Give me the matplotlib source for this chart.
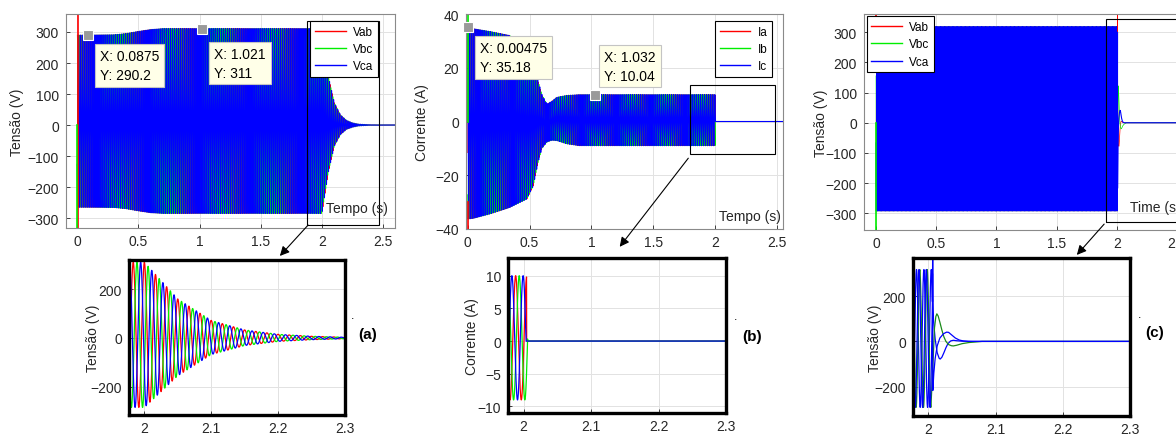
import numpy as np
import matplotlib
matplotlib.use('Agg')
import matplotlib.pyplot as plt
from matplotlib.lines import Line2D
from matplotlib.patches import Rectangle, FancyArrowPatch
from matplotlib.ticker import FormatStrFormatter

plt.rcParams['font.family'] = ['Liberation Sans', 'DejaVu Sans']

W, H = 1176, 439

# ---------------- data ----------------
# (a) line voltages: upper / lower envelope of the three waves
va_t = [0.00, 0.30, 0.40, 0.50, 0.60, 0.70, 2.00, 2.05, 2.10, 2.15, 2.20, 2.25, 2.30, 2.40, 2.60]
va_up = [290, 291, 295, 302, 308, 311, 311, 160, 72, 33, 15, 7, 3, 0.5, 0]
va_lo = [-265, -266, -270, -277, -283, -285, -285, -155, -68, -31, -14, -7, -3, -0.5, 0]
va_freq = 60.0
va_peak = [0.0000, 0.0056, 0.0111]          # Vab, Vbc, Vca
va_spike_t = [[0.008, 0.008], [0.000, 0.000]]
va_spike_v = [[-400, 400], [0, -400]]

# (b) phase currents
ic_t = [0.00, 0.05, 0.18, 0.34, 0.48, 0.53, 0.57, 0.60, 0.64, 0.68, 0.72, 0.80, 0.90, 2.00]
ic_up = [35.2, 34.5, 33.5, 32.0, 27.0, 23.0, 15.0, 10.0, 6.5, 7.5, 9.0, 9.7, 10.0, 10.0]
ic_lo = [-36.3, -36.0, -34.4, -32.0, -28.8, -24.0, -15.0, -10.0, -7.7, -7.0, -7.1, -8.3, -9.0, -9.0]
ic_freq = 60.0
ic_peak = [2.0050, 1.9936, 1.9994]          # Ia, Ib, Ic
ic_cut = [2.0045, 2.0061, 2.0036]
ic_spike_t = [[0.005, 0.005], [0.003, 0.003]]
ic_spike_v = [[-45, -30], [0, 45]]

# (c) line voltages, second case
vc_up = 318
vc_lo = -292
vc_freq = 91.0
vc_peak = [1.9932, 1.9981, 1.9858]          # Vab, Vbc, Vca
vc_end = [2.0060, 2.0036, 2.0060]
vab_tr_t = [2.0060, 2.0063, 2.0068, 2.0075, 2.0100, 2.0130, 2.0160, 2.0175, 2.0200, 2.0230,
            2.0260, 2.0290, 2.0330, 2.0370, 2.0420, 2.0500, 2.0650, 2.6000]
vab_tr_v = [250, 400, 180, 93, 10, -50, -75, -78, -70, -50, -28, -10, 2, 5, 3, 1, 0, 0]
vbc_tr_t = [2.0036, 2.0060, 2.0090, 2.0110, 2.0125, 2.0145, 2.0170, 2.0200, 2.0230, 2.0260,
            2.0300, 2.0340, 2.0370, 2.0420, 2.0500, 2.0600, 2.0800, 2.6000]
vbc_tr_v = [-290, -150, 60, 110, 122, 112, 85, 50, 20, 0, -14, -19, -20, -17, -10, -5, 0, 0]
vca_tr_t = [2.0060, 2.0065, 2.0080, 2.0100, 2.0130, 2.0170, 2.0224, 2.0270, 2.0300, 2.0340,
            2.0400, 2.0460, 2.0520, 2.0600, 2.0700, 2.6000]
vca_tr_v = [300, -217, -140, -75, -20, 15, 34, 41, 40, 30, 15, 6, 2, 0, 0, 0]
vc_spike_t = [[0.000, 0.000], [0.000, 0.000]]
vc_spike_v = [[318, 400], [0, -400]]

# data tips
tips_a = [(0.0875, 290.2), (1.021, 311)]
tips_b = [(0.00475, 35.18), (1.032, 10.04)]

v_labels = ['Vab', 'Vbc', 'Vca']
i_labels = ['Ia', 'Ib', 'Ic']
colors = ['#ff0000', '#00ee00', '#0000ff']
colors_c = ['#0000ff', '#1a8a1a', '#0000ff']
top_lw = [0.5, 0.5, 0.8]

# ---------------- signals ----------------
t = np.arange(0, 2.6, 5e-5)


def wave(env_t, up, lo, f, tp):
    u = np.interp(t, env_t, up)
    l = np.interp(t, env_t, lo)
    return (u + l) / 2 + (u - l) / 2 * np.cos(2 * np.pi * f * (t - tp))


va = [wave(va_t, va_up, va_lo, va_freq, p) for p in va_peak]

ic = []
for p, cut in zip(ic_peak, ic_cut):
    y = wave(ic_t, ic_up, ic_lo, ic_freq, p)
    y[t >= cut] = 0
    ic.append(y)

vc = []
for p, end, (tt, vv) in zip(vc_peak, vc_end,
                            [(vab_tr_t, vab_tr_v), (vbc_tr_t, vbc_tr_v), (vca_tr_t, vca_tr_v)]):
    y = wave([0, 2.6], [vc_up, vc_up], [vc_lo, vc_lo], vc_freq, p)
    m = t < end
    vc.append((np.concatenate([t[m], tt]), np.concatenate([y[m], vv])))

# ---------------- figure ----------------
fig = plt.figure(figsize=(W / 100, H / 100), dpi=100)


def px_axes(x0, y0, x1, y1):
    return fig.add_axes([x0 / W, 1 - y1 / H, (x1 - x0) / W, (y1 - y0) / H])


def fpt(x, y):
    return (x / W, 1 - y / H)


def style(ax, thick=False):
    for s in ax.spines.values():
        s.set_color('k' if thick else '#8a8a8a')
        s.set_linewidth(2.4 if thick else 0.8)
    ax.tick_params(direction='in', length=3, width=0.6, labelsize=10,
                   colors='#262626', pad=4)
    ax.tick_params(axis='y', pad=5)
    ax.grid(True, color='#e2e2e2', lw=0.7)
    ax.set_axisbelow(True)


def ylabel(ax, text, xfrac):
    ax.set_ylabel(text, fontsize=10, color='#262626', va='center')
    ax.yaxis.set_label_coords(xfrac, 0.5)


def datatip(ax, x, y, off, va='top'):
    ax.plot(x, y, 's', ms=7.5, mfc='#9a9a9a', mec='white', mew=0.8, zorder=6, clip_on=False)
    ax.annotate('X: %g\nY: %g' % (x, y), xy=(x, y), xytext=off, textcoords='offset pixels',
                ha='left', va=va, fontsize=10, linespacing=1.45, zorder=7,
                bbox=dict(boxstyle='square,pad=0.35', fc='#ffffe8', ec='#c4c4c4', lw=0.8))


def legend(ax, labels, cols, loc, anchor):
    hs = [Line2D([], [], color=c, lw=1) for c in cols]
    lg = ax.legend(hs, labels, loc=loc, bbox_to_anchor=anchor, fontsize=8.5, frameon=True,
                   fancybox=False, edgecolor='k', framealpha=1, handlelength=2.6,
                   handletextpad=0.6, borderpad=0.4, labelspacing=0.45, borderaxespad=0)
    lg.get_frame().set_linewidth(0.8)
    lg.set_zorder(8)


xt_top = [0, 0.5, 1, 1.5, 2, 2.5]
xt_bot = [2, 2.1, 2.2, 2.3]

# --- top left: voltages (a)
ax = px_axes(66, 15, 395, 229)
style(ax)
for y, c, lw in zip(va, colors, top_lw):
    ax.plot(t, y, color=c, lw=lw)
for st, sv, c in zip(va_spike_t, va_spike_v, colors):
    ax.plot(st, sv, color=c, lw=1.2)
ax.set_xlim(-0.092, 2.596)
ax.set_ylim(-332, 358)
ax.set_xticks(xt_top)
ax.set_yticks(range(-300, 301, 100))
ax.xaxis.set_major_formatter(FormatStrFormatter('%g'))
ylabel(ax, 'Tensão (V)', -0.149)
ax.add_patch(Rectangle((1.874, -321.6), 0.591, 657.6, fill=False, ec='k', lw=0.8,
                       clip_on=False, zorder=7))
legend(ax, v_labels, colors, 'upper right', (0.948, 0.967))
datatip(ax, *tips_a[0], (12, -14))
datatip(ax, *tips_a[1], (12, -18))
fig.text(*fpt(357, 209), 'Tempo (s)', fontsize=10, color='#262626', ha='center', va='center',
         zorder=9)

# --- top middle: currents (b)
ax = px_axes(466, 15, 783, 230)
style(ax)
for y, c, lw in zip(ic, colors, top_lw):
    ax.plot(t, y, color=c, lw=lw)
for st, sv, c in zip(ic_spike_t, ic_spike_v, colors):
    ax.plot(st, sv, color=c, lw=1.2)
ax.set_xlim(-0.014, 2.551)
ax.set_ylim(-40, 40)
ax.set_xticks(xt_top)
ax.set_yticks(range(-40, 41, 20))
ax.xaxis.set_major_formatter(FormatStrFormatter('%g'))
ylabel(ax, 'Corrente (A)', -0.139)
ax.add_patch(Rectangle((1.80, -12.1), 0.69, 25.7, fill=False, ec='k', lw=0.8,
                       clip_on=False, zorder=7))
legend(ax, i_labels, colors, 'upper right', (0.965, 0.967))
datatip(ax, *tips_b[0], (12, -14))
datatip(ax, *tips_b[1], (9, 12), va='bottom')
fig.text(*fpt(750, 217), 'Tempo (s)', fontsize=10, color='#262626', ha='center', va='center',
         zorder=9)

# --- top right: voltages (c)
ax = px_axes(864, 15, 1189, 231)
style(ax)
for (tt, y), c, lw in zip(vc, colors, top_lw):
    ax.plot(tt, y, color=c, lw=lw)
for st, sv, c in zip(vc_spike_t, vc_spike_v, colors):
    ax.plot(st, sv, color=c, lw=1.2)
ax.set_xlim(-0.1, 2.6)
ax.set_ylim(-355, 360)
ax.set_xticks(xt_top)
ax.set_yticks(range(-300, 301, 100))
ax.xaxis.set_major_formatter(FormatStrFormatter('%g'))
ylabel(ax, 'Tensão (V)', -0.132)
ax.add_patch(Rectangle((1.91, -329), 1.0, 674, fill=False, ec='k', lw=0.8,
                       clip_on=False, zorder=7))
legend(ax, v_labels, colors, 'upper left', (0.008, 0.989))
fig.text(*fpt(1130, 208), 'Time (s)', fontsize=10, color='#262626', ha='left', va='center',
         zorder=9)

# --- bottom zooms
zooms = [
    ((129, 261, 345, 416), va, colors, (-316, 320), [-200, 0, 200], 'Tensão (V)', -0.165,
     '(a)', (368, 335), (353, 316)),
    ((508, 259, 726, 414), ic, colors, (-11, 12.7), [-10, -5, 0, 5, 10], 'Corrente (A)', -0.165,
     '(b)', (752, 337), (736, 317)),
    ((913, 259, 1130, 417), None, colors_c, (-330, 369), [-200, 0, 200], 'Tensão (V)', -0.175,
     '(c)', (1155, 333), (1140, 315)),
]
for box, sig, cols, ylim, yt, ylab, lx, tag, tag_xy, dot_xy in zooms:
    ax = px_axes(*box)
    style(ax, thick=True)
    if sig is None:
        for (tt, y), c in zip(vc, cols):
            ax.plot(tt, y, color=c, lw=0.9)
    else:
        for y, c in zip(sig, cols):
            ax.plot(t, y, color=c, lw=0.9)
    ax.set_xlim(1.977, 2.3)
    ax.set_ylim(*ylim)
    ax.set_xticks(xt_bot)
    ax.set_yticks(yt)
    ax.xaxis.set_major_formatter(FormatStrFormatter('%g'))
    ylabel(ax, ylab, lx)
    fig.text(*fpt(*tag_xy), tag, fontsize=11, fontweight='bold', ha='center', va='center')
    fig.text(*fpt(*dot_xy), '.', fontsize=9, ha='center', va='center')

# --- arrows from the zoom boxes to the zoomed views
for (x0, y0), (x1, y1) in [((310, 224), (278, 259)), ((690, 157), (618, 250)),
                           ((1106, 223), (1075, 258))]:
    fig.add_artist(FancyArrowPatch(
        fpt(x0, y0), fpt(x1, y1), transform=fig.transFigure, arrowstyle='-|>',
        mutation_scale=14, lw=0.8, color='k', zorder=10))

fig.savefig('out.png', dpi=100)
